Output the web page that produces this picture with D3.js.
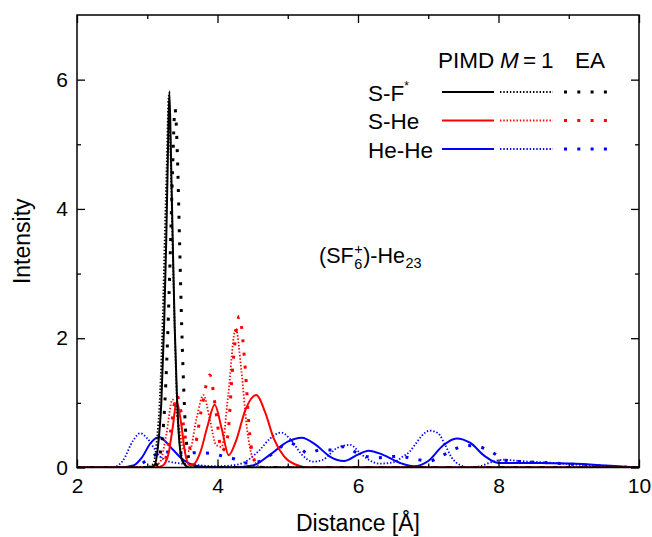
<!DOCTYPE html>
<html>
<head>
<meta charset="utf-8">
<script src="https://cdn.jsdelivr.net/npm/d3@7"></script>
<style>
  body { margin: 0; background: #fff; }
  text { font-family: "Liberation Sans", Arial, sans-serif; fill: #000; }
</style>
</head>
<body>
<div id="chart"></div>
<script>
// axis ranges and ticks
var xDomain = [2, 10];
var yDomain = [0, 7];
var xMajor = [2, 4, 6, 8, 10];
var xMinor = [3, 5, 7, 9];
var yMajor = [0, 2, 4, 6];
var yMinor = [1, 3, 5];

// S-F* pair distribution  [distance, intensity]
var sfPimd = [[2, 0], [3.0, 0], [3.1, 0.03], [3.15, 0.3], [3.2, 1.0], [3.24, 2.2], [3.27, 3.5], [3.29, 4.6], [3.315, 5.82],
  [3.34, 4.7], [3.365, 3.4], [3.39, 2.2], [3.42, 1.2], [3.45, 0.5], [3.5, 0.1], [3.6, 0], [10, 0]];
var sfM1 = [[2, 0], [2.98, 0], [3.08, 0.05], [3.13, 0.35], [3.18, 1.1], [3.22, 2.3], [3.25, 3.6], [3.28, 4.8], [3.305, 5.75],
  [3.33, 4.9], [3.36, 3.5], [3.39, 2.2], [3.42, 1.1], [3.46, 0.4], [3.52, 0.08], [3.6, 0], [10, 0]];
var sfEa = [[2, 0], [3.1, 0], [3.18, 0.2], [3.24, 0.8], [3.29, 2.0], [3.33, 3.4], [3.36, 4.6], [3.395, 5.55], [3.43, 4.8],
  [3.46, 3.5], [3.49, 2.2], [3.52, 1.2], [3.55, 0.5], [3.6, 0.12], [3.7, 0], [10, 0]];

// S-He pair distribution
var shePimd = [[2, 0], [3.1, 0], [3.22, 0.03], [3.3, 0.2], [3.36, 0.6], [3.42, 1.02], [3.48, 0.7], [3.54, 0.22], [3.6, 0.04],
  [3.66, 0.05], [3.76, 0.25], [3.86, 0.65], [3.96, 0.97], [4.06, 0.6], [4.16, 0.19], [4.26, 0.4], [4.4, 0.9], [4.55, 1.12],
  [4.68, 0.85], [4.8, 0.45], [4.95, 0.17], [5.1, 0.05], [5.3, 0], [10, 0]];
var sheM1 = [[2, 0], [3.05, 0], [3.18, 0.08], [3.27, 0.5], [3.36, 1.05], [3.44, 0.7], [3.52, 0.28], [3.6, 0.25], [3.7, 0.75],
  [3.8, 1.12], [3.89, 0.75], [3.98, 0.35], [4.06, 0.32], [4.15, 1.1], [4.26, 2.15], [4.34, 1.5], [4.42, 0.6], [4.5, 0.15],
  [4.6, 0.02], [4.7, 0], [10, 0]];
var sheEa = [[2, 0], [3.15, 0], [3.25, 0.1], [3.33, 0.55], [3.42, 1.12], [3.5, 0.75], [3.58, 0.3], [3.66, 0.3], [3.78, 0.95],
  [3.89, 1.43], [3.98, 0.85], [4.06, 0.25], [4.14, 0.45], [4.22, 1.6], [4.31, 2.34], [4.39, 1.6], [4.46, 0.5], [4.53, 0.1],
  [4.62, 0], [10, 0]];

// He-He pair distribution
var hehePimd = [[2, 0], [2.6, 0], [2.8, 0.03], [2.92, 0.15], [3.05, 0.38], [3.17, 0.47], [3.27, 0.39], [3.37, 0.27],
  [3.51, 0.12], [3.65, 0.04], [3.8, 0.01], [4.2, 0], [4.5, 0.03], [4.75, 0.2], [5.0, 0.4], [5.2, 0.46], [5.4, 0.35],
  [5.6, 0.17], [5.8, 0.1], [6.0, 0.2], [6.15, 0.26], [6.35, 0.2], [6.6, 0.07], [6.8, 0.02], [7.0, 0.1], [7.2, 0.33],
  [7.4, 0.45], [7.6, 0.38], [7.8, 0.18], [8.0, 0.07], [8.3, 0.07], [8.6, 0.07], [9.0, 0.06], [9.4, 0.04], [9.8, 0.01], [10, 0]];
var heheM1 = [[2, 0], [2.5, 0], [2.65, 0.1], [2.8, 0.42], [2.9, 0.53], [3.0, 0.45], [3.18, 0.17], [3.32, 0.09], [3.6, 0.05],
  [4.0, 0.02], [4.3, 0.05], [4.6, 0.27], [4.75, 0.45], [4.91, 0.54], [5.05, 0.42], [5.2, 0.2], [5.36, 0.09], [5.5, 0.12],
  [5.7, 0.3], [5.89, 0.35], [6.05, 0.2], [6.3, 0.06], [6.5, 0.08], [6.64, 0.17], [6.74, 0.25], [6.81, 0.35], [6.9, 0.48],
  [7.02, 0.57], [7.14, 0.53], [7.24, 0.35], [7.33, 0.16], [7.45, 0.04], [7.6, 0.0], [7.74, 0.02], [7.92, 0.09], [8.07, 0.12],
  [8.3, 0.1], [8.8, 0.07], [9.3, 0.03], [10, 0]];
var heheEa = [[2, 0], [2.7, 0], [2.9, 0.05], [3.05, 0.15], [3.2, 0.24], [3.35, 0.24], [3.56, 0.22], [3.68, 0.23], [3.89, 0.22],
  [4.1, 0.17], [4.25, 0.13], [4.39, 0.07], [4.55, 0.08], [4.75, 0.19], [5.03, 0.38], [5.15, 0.32], [5.29, 0.22], [5.46, 0.27],
  [5.63, 0.27], [5.79, 0.32], [6.05, 0.19], [6.25, 0.15], [6.53, 0.17], [6.69, 0.16], [6.86, 0.12], [7.02, 0.1], [7.17, 0.17],
  [7.28, 0.23], [7.41, 0.3], [7.55, 0.34], [7.69, 0.33], [7.81, 0.29], [7.92, 0.23], [8.02, 0.16], [8.15, 0.1], [8.35, 0.09],
  [8.78, 0.07], [9.2, 0.04], [9.7, 0.01], [10, 0]];

var pairNames = ["S-F", "S-He", "He-He"];
var pairColors = ["#000000", "#ff0000", "#0000ff"];

var series = [
  {pair: 2, method: 0, data: hehePimd}, {pair: 2, method: 1, data: heheM1}, {pair: 2, method: 2, data: heheEa},
  {pair: 1, method: 0, data: shePimd}, {pair: 1, method: 1, data: sheM1}, {pair: 1, method: 2, data: sheEa},
  {pair: 0, method: 0, data: sfPimd}, {pair: 0, method: 1, data: sfM1}, {pair: 0, method: 2, data: sfEa}
];

var W = 652, H = 537;
var margin = {left: 77, right: 13, top: 15, bottom: 69.5};
var w = W - margin.left - margin.right, h = H - margin.top - margin.bottom;

var x = d3.scaleLinear().domain(xDomain).range([0, w]);
var y = d3.scaleLinear().domain(yDomain).range([h, 0]);

// line styles for the three methods (PIMD, M = 1, EA)
var lineStyle = [
  {width: 2, dash: null},
  {width: 1.8, dash: "1.4,1.9"},
  {width: 3, dash: "3,10.3"}
];

var svg = d3.select("#chart").append("svg")
  .attr("width", W)
  .attr("height", H);

var g = svg.append("g")
  .attr("transform", "translate(" + margin.left + "," + margin.top + ")");

g.append("clipPath").attr("id", "clip")
  .append("rect").attr("width", w).attr("height", h);

var line = d3.line()
  .x(function (d) { return x(d[0]); })
  .y(function (d) { return y(d[1]); })
  .curve(d3.curveMonotoneX);

g.append("g").attr("clip-path", "url(#clip)")
  .selectAll(".curve")
  .data(series)
  .enter()
  .append("path")
    .attr("class", "curve")
    .attr("d", function (d) { return line(d.data); })
    .attr("fill", "none")
    .attr("stroke", function (d) { return pairColors[d.pair]; })
    .attr("stroke-width", function (d) { return lineStyle[d.method].width; })
    .attr("stroke-dasharray", function (d) { return lineStyle[d.method].dash; })
    .attr("stroke-linejoin", "round");

// axes, ticks pointing inward
var tickFont = 21;
var styleAxis = function (sel) {
  sel.select(".domain").remove();
  sel.selectAll(".tick line").attr("stroke", "#000").attr("stroke-width", 1.3);
  sel.selectAll("text").attr("font-size", tickFont).attr("font-family", "Liberation Sans, Arial, sans-serif").attr("fill", "#000");
};

g.append("g").attr("transform", "translate(0," + h + ")")
  .call(d3.axisBottom(x).tickValues(xMajor).tickSizeInner(-8).tickSizeOuter(0).tickPadding(10.6).tickFormat(d3.format("d")))
  .call(styleAxis);
g.append("g").attr("transform", "translate(0," + h + ")")
  .call(d3.axisBottom(x).tickValues(xMinor).tickSizeInner(-4).tickSizeOuter(0).tickFormat(""))
  .call(styleAxis);
g.append("g")
  .call(d3.axisTop(x).tickValues(xMajor).tickSizeInner(-8).tickSizeOuter(0).tickFormat(""))
  .call(styleAxis);
g.append("g")
  .call(d3.axisTop(x).tickValues(xMinor).tickSizeInner(-4).tickSizeOuter(0).tickFormat(""))
  .call(styleAxis);
g.append("g")
  .call(d3.axisLeft(y).tickValues(yMajor).tickSizeInner(-8).tickSizeOuter(0).tickPadding(9).tickFormat(d3.format("d")))
  .call(styleAxis);
g.append("g")
  .call(d3.axisLeft(y).tickValues(yMinor).tickSizeInner(-4).tickSizeOuter(0).tickFormat(""))
  .call(styleAxis);
g.append("g").attr("transform", "translate(" + w + ",0)")
  .call(d3.axisRight(y).tickValues(yMajor).tickSizeInner(-8).tickSizeOuter(0).tickFormat(""))
  .call(styleAxis);
g.append("g").attr("transform", "translate(" + w + ",0)")
  .call(d3.axisRight(y).tickValues(yMinor).tickSizeInner(-4).tickSizeOuter(0).tickFormat(""))
  .call(styleAxis);

g.append("rect")
  .attr("width", w).attr("height", h)
  .attr("fill", "none").attr("stroke", "#000").attr("stroke-width", 1.5);

// axis titles
svg.append("text")
  .attr("x", margin.left + w / 2).attr("y", 531)
  .attr("text-anchor", "middle").attr("font-size", 23)
  .text("Distance [Å]");
svg.append("text")
  .attr("transform", "translate(30," + (margin.top + h / 2) + ") rotate(-90)")
  .attr("text-anchor", "middle").attr("font-size", 23)
  .text("Intensity");

// legend
var legFont = 22.5;
var leg = svg.append("g");
var lx0 = 368, ly0 = 92, ldy = 28.5;
var segX = [[442, 494], [500, 553], [564, 608]];
var head = leg.append("text").attr("y", 68).attr("font-size", legFont);
head.append("tspan").attr("x", 438).text("PIMD");
head.append("tspan").attr("x", 500).attr("font-style", "italic").text("M");
head.append("tspan").attr("x", 523).text("=");
head.append("tspan").attr("x", 541).text("1");
head.append("tspan").attr("x", 575).text("EA");

pairNames.forEach(function (name, i) {
  var ty = ly0 + i * ldy;
  var t = leg.append("text").attr("x", lx0).attr("y", ty + 8.5).attr("font-size", legFont).text(name);
  if (i === 0) {
    t.append("tspan").attr("font-size", 12).attr("dy", -11).text("*");
  }
  segX.forEach(function (s, j) {
    leg.append("line")
      .attr("x1", s[0]).attr("x2", s[1])
      .attr("y1", ty).attr("y2", ty)
      .attr("stroke", pairColors[i])
      .attr("stroke-width", lineStyle[j].width)
      .attr("stroke-dasharray", lineStyle[j].dash);
  });
});

// annotation (SF6+)-He23, with stacked sub/superscript
var annFont = 21.5, subFont = 14.5;
var ax = 319;
var ann = svg.append("g");
var a1 = ann.append("text").attr("x", ax).attr("y", 263).attr("font-size", annFont).text("(SF");
var x1 = ax + a1.node().getComputedTextLength();
ann.append("text").attr("x", x1 + 0.5).attr("y", 254).attr("font-size", subFont).text("+");
ann.append("text").attr("x", x1 + 0.5).attr("y", 269).attr("font-size", subFont).text("6");
var a2 = ann.append("text").attr("x", x1 + 9.5).attr("y", 263).attr("font-size", annFont).text(")-He");
var x2 = x1 + 9.5 + a2.node().getComputedTextLength();
ann.append("text").attr("x", x2 + 0.5).attr("y", 268).attr("font-size", subFont).text("23");
</script>
</body>
</html>
